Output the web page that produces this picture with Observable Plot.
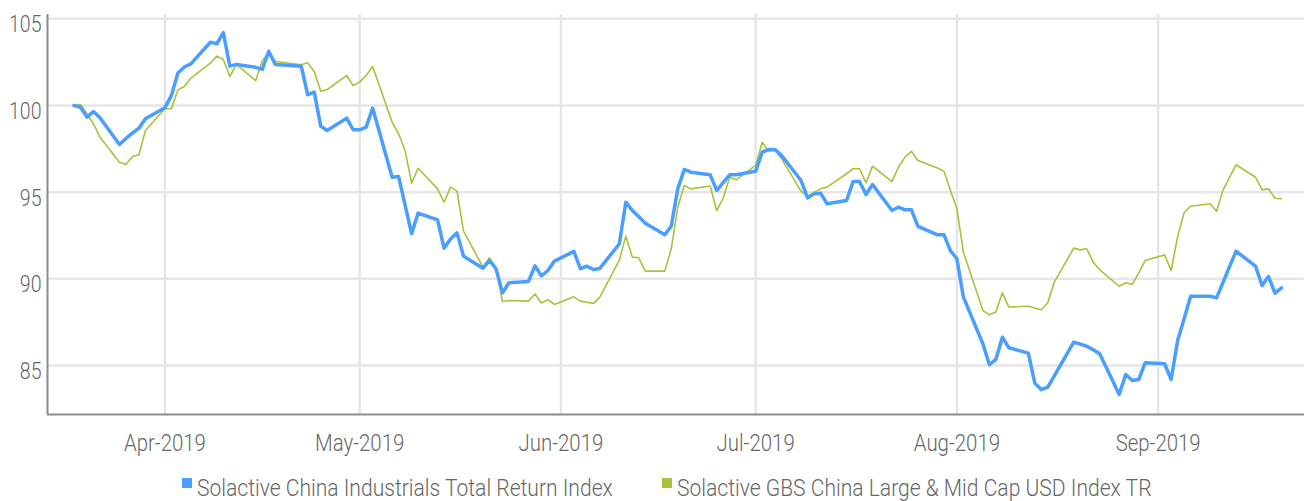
<!DOCTYPE html>
<html>
<head>
<meta charset="utf-8">
<script src="https://cdn.jsdelivr.net/npm/d3@7"></script>
<script src="https://cdn.jsdelivr.net/npm/@observablehq/plot@0.6"></script>
<style>
  html, body { margin: 0; padding: 0; background: #fff; }
  #chart { width: 1304px; }
  .legend { position: relative; height: 41px; width: 1304px;
            font-family: "Roboto", "Liberation Sans", sans-serif; font-weight: 300;
            font-size: 24px; line-height: 24px; color: #666; }
  .legend .sw { position: absolute; width: 10px; height: 10px; top: 18px; }
  .legend .lbl { position: absolute; top: 16px; white-space: nowrap; transform-origin: 0 50%; }
</style>
</head>
<body>
<div id="chart"></div>
<script>
const seriesNames = ["Solactive China Industrials Total Return Index", "Solactive GBS China Large & Mid Cap USD Index TR"];
const seriesColors = ["#4a9eff", "#a8c23c"];

const dates = [
  "2019-03-18","2019-03-19","2019-03-20","2019-03-21","2019-03-22","2019-03-25","2019-03-26","2019-03-27","2019-03-28","2019-03-29",
  "2019-04-01","2019-04-02","2019-04-03","2019-04-04","2019-04-05","2019-04-08","2019-04-09","2019-04-10","2019-04-11","2019-04-12",
  "2019-04-15","2019-04-16","2019-04-17","2019-04-18","2019-04-22","2019-04-23","2019-04-24","2019-04-25","2019-04-26","2019-04-29","2019-04-30",
  "2019-05-01","2019-05-02","2019-05-03","2019-05-06","2019-05-07","2019-05-08","2019-05-09","2019-05-10","2019-05-13","2019-05-14",
  "2019-05-15","2019-05-16","2019-05-17","2019-05-20","2019-05-21","2019-05-22","2019-05-23","2019-05-24","2019-05-27","2019-05-28",
  "2019-05-29","2019-05-30","2019-05-31",
  "2019-06-03","2019-06-04","2019-06-05","2019-06-06","2019-06-07","2019-06-10","2019-06-11","2019-06-12","2019-06-13","2019-06-14",
  "2019-06-17","2019-06-18","2019-06-19","2019-06-20","2019-06-21","2019-06-24","2019-06-25","2019-06-26","2019-06-27","2019-06-28",
  "2019-07-01","2019-07-02","2019-07-03","2019-07-04","2019-07-05","2019-07-08","2019-07-09","2019-07-10","2019-07-11","2019-07-12",
  "2019-07-15","2019-07-16","2019-07-17","2019-07-18","2019-07-19","2019-07-22","2019-07-23","2019-07-24","2019-07-25","2019-07-26",
  "2019-07-29","2019-07-30","2019-07-31",
  "2019-08-01","2019-08-02","2019-08-05","2019-08-06","2019-08-07","2019-08-08","2019-08-09","2019-08-12","2019-08-13","2019-08-14",
  "2019-08-15","2019-08-16","2019-08-19","2019-08-20","2019-08-21","2019-08-22","2019-08-23","2019-08-26","2019-08-27","2019-08-28",
  "2019-08-29","2019-08-30",
  "2019-09-02","2019-09-03","2019-09-04","2019-09-05","2019-09-06","2019-09-09","2019-09-10","2019-09-11","2019-09-12","2019-09-13",
  "2019-09-16","2019-09-17","2019-09-18","2019-09-19","2019-09-20"
];

const chinaIndustrials = [
  100.0, 99.9, 99.33, 99.65, 99.29, 97.75, 98.1, 98.4, 98.69, 99.23,
  99.87, 100.58, 101.87, 102.22, 102.4, 103.65, 103.56, 104.2, 102.27, 102.37,
  102.2, 102.08, 103.13, 102.37, 102.27, 100.62, 100.77, 98.81, 98.56, 99.27, 98.6,
  98.6, 98.75, 99.85, 95.86, 95.9, 94.25, 92.6, 93.79, 93.4, 91.77,
  92.3, 92.65, 91.3, 90.61, 91.06, 90.58, 89.19, 89.77, 89.84, 90.75,
  90.17, 90.48, 91.02,
  91.58, 90.58, 90.73, 90.54, 90.6, 92.02, 94.42, 93.94, 93.58, 93.21,
  92.54, 93.04, 95.19, 96.31, 96.15, 96.0, 95.1, 95.55, 96.0, 96.0,
  96.21, 97.31, 97.46, 97.46, 97.11, 95.67, 94.67, 94.9, 94.94, 94.33,
  94.52, 95.61, 95.61, 94.86, 95.44, 93.94, 94.13, 93.98, 93.98, 93.02,
  92.54, 92.54, 91.63,
  91.15, 88.94, 86.25, 85.04, 85.35, 86.63, 86.02, 85.71, 83.98, 83.6,
  83.75, 84.4, 86.35, 86.23, 86.11, 85.9, 85.67, 83.33, 84.48, 84.13,
  84.19, 85.15,
  85.1, 84.19, 86.44, 87.7, 88.99, 88.99, 88.9, 89.8, 90.7, 91.59,
  90.73, 89.61, 90.13, 89.17, 89.48
];

const gbsChina = [
  100.0, 100.06, 99.52, 98.94, 98.17, 96.73, 96.6, 97.06, 97.15, 98.56,
  99.81, 99.81, 100.9, 101.1, 101.58, 102.44, 102.85, 102.65, 101.67, 102.37,
  101.44, 102.6, 103.02, 102.54, 102.35, 102.46, 101.96, 100.83, 100.92, 101.73, 101.15,
  101.35, 101.73, 102.25, 99.04, 98.37, 97.4, 95.52, 96.38, 95.19, 94.42,
  95.29, 95.06, 92.75, 90.67, 91.21, 90.61, 88.69, 88.75, 88.71, 89.12,
  88.6, 88.79, 88.52,
  88.96, 88.71, 88.65, 88.58, 88.94, 91.08, 92.46, 91.25, 91.21, 90.44,
  90.44, 91.73, 94.13, 95.38, 95.19, 95.35, 93.94, 94.65, 95.86, 95.71,
  96.54, 97.88, 97.37, 97.4, 96.92, 95.04, 94.75, 95.0, 95.19, 95.29,
  96.06, 96.35, 96.35, 95.54, 96.5, 95.61, 96.44, 97.02, 97.35, 96.83,
  96.4, 96.21, 95.1,
  94.04, 91.54, 88.17, 87.92, 88.08, 89.19, 88.37, 88.42, 88.31, 88.21,
  88.62, 89.81, 91.77, 91.67, 91.73, 90.96, 90.52, 89.57, 89.77, 89.67,
  90.33, 91.06,
  91.38, 90.48, 92.44, 93.81, 94.19, 94.33, 93.9, 95.13, 95.85, 96.58,
  95.86, 95.13, 95.19, 94.65, 94.62
];

const yTicks = [85, 90, 95, 100, 105];
const monthTicks = ["2019-04-01","2019-05-01","2019-06-01","2019-07-01","2019-08-01","2019-09-01"].map(d => new Date(d));
const xDomain = [new Date(Date.UTC(2019, 2, 13, 22)), new Date(Date.UTC(2019, 8, 23, 13))];
const yDomain = [82.17, 105.25];

const chinaData = dates.map((d, i) => ({date: new Date(d), value: chinaIndustrials[i], series: seriesNames[0]}));
const gbsData = dates.map((d, i) => ({date: new Date(d), value: gbsChina[i], series: seriesNames[1]}));

const fontFam = '"Roboto", "Liberation Sans", sans-serif';
const condense = 0.85;
const legendCondense = 0.878;
const fmt = d3.utcFormat("%b-%Y");

const chart = Plot.plot({
  width: 1304,
  height: 460,
  marginLeft: 47,
  marginRight: 0,
  marginTop: 14,
  marginBottom: 46,
  style: {fontFamily: fontFam, fontSize: "24px", fontWeight: 300, color: "#666", background: "#fff", overflow: "visible"},
  x: {type: "utc", domain: xDomain},
  y: {domain: yDomain},
  marks: [
    Plot.gridY(yTicks, {stroke: "#e6e6e6", strokeOpacity: 1, strokeWidth: 2.5}),
    Plot.gridX(monthTicks, {stroke: "#e6e6e6", strokeOpacity: 1, strokeWidth: 2.5}),
    Plot.axisY(yTicks, {tickSize: 0, tickPadding: 6, dy: 6, label: null, fontSize: 23, fill: "#666"}),
    Plot.axisX(monthTicks, {tickSize: 0, tickPadding: 19, tickFormat: fmt, label: null, fontSize: 24, fill: "#666"}),
    Plot.ruleX([xDomain[0]], {stroke: "#8c8c8c", strokeWidth: 2}),
    Plot.ruleY([yDomain[0]], {stroke: "#8c8c8c", strokeWidth: 2}),
    Plot.lineY(gbsData, {x: "date", y: "value", stroke: seriesColors[1], strokeWidth: 1.6, strokeLinejoin: "round"}),
    Plot.lineY(chinaData, {x: "date", y: "value", stroke: seriesColors[0], strokeWidth: 3.5, strokeLinejoin: "round"})
  ]
});
// condense the axis tick labels horizontally (the reference uses a condensed face)
d3.select(chart).selectAll('g[aria-label="x-axis tick label"] text, g[aria-label="y-axis tick label"] text').each(function() {
  const t = this.getAttribute("transform") || "";
  this.setAttribute("transform", (t + ` scale(${condense},1)`).trim());
});
document.getElementById("chart").appendChild(chart);

const legend = document.createElement("div");
legend.className = "legend";
const legendX = [182, 662];
seriesNames.forEach((name, i) => {
  const sw = document.createElement("span");
  sw.className = "sw";
  sw.style.background = seriesColors[i];
  sw.style.left = legendX[i] + "px";
  const label = document.createElement("span");
  label.className = "lbl";
  label.textContent = name;
  label.style.left = (legendX[i] + 15) + "px";
  label.style.transform = `scaleX(${legendCondense})`;
  legend.appendChild(sw);
  legend.appendChild(label);
});
document.getElementById("chart").appendChild(legend);
</script>
</body>
</html>
